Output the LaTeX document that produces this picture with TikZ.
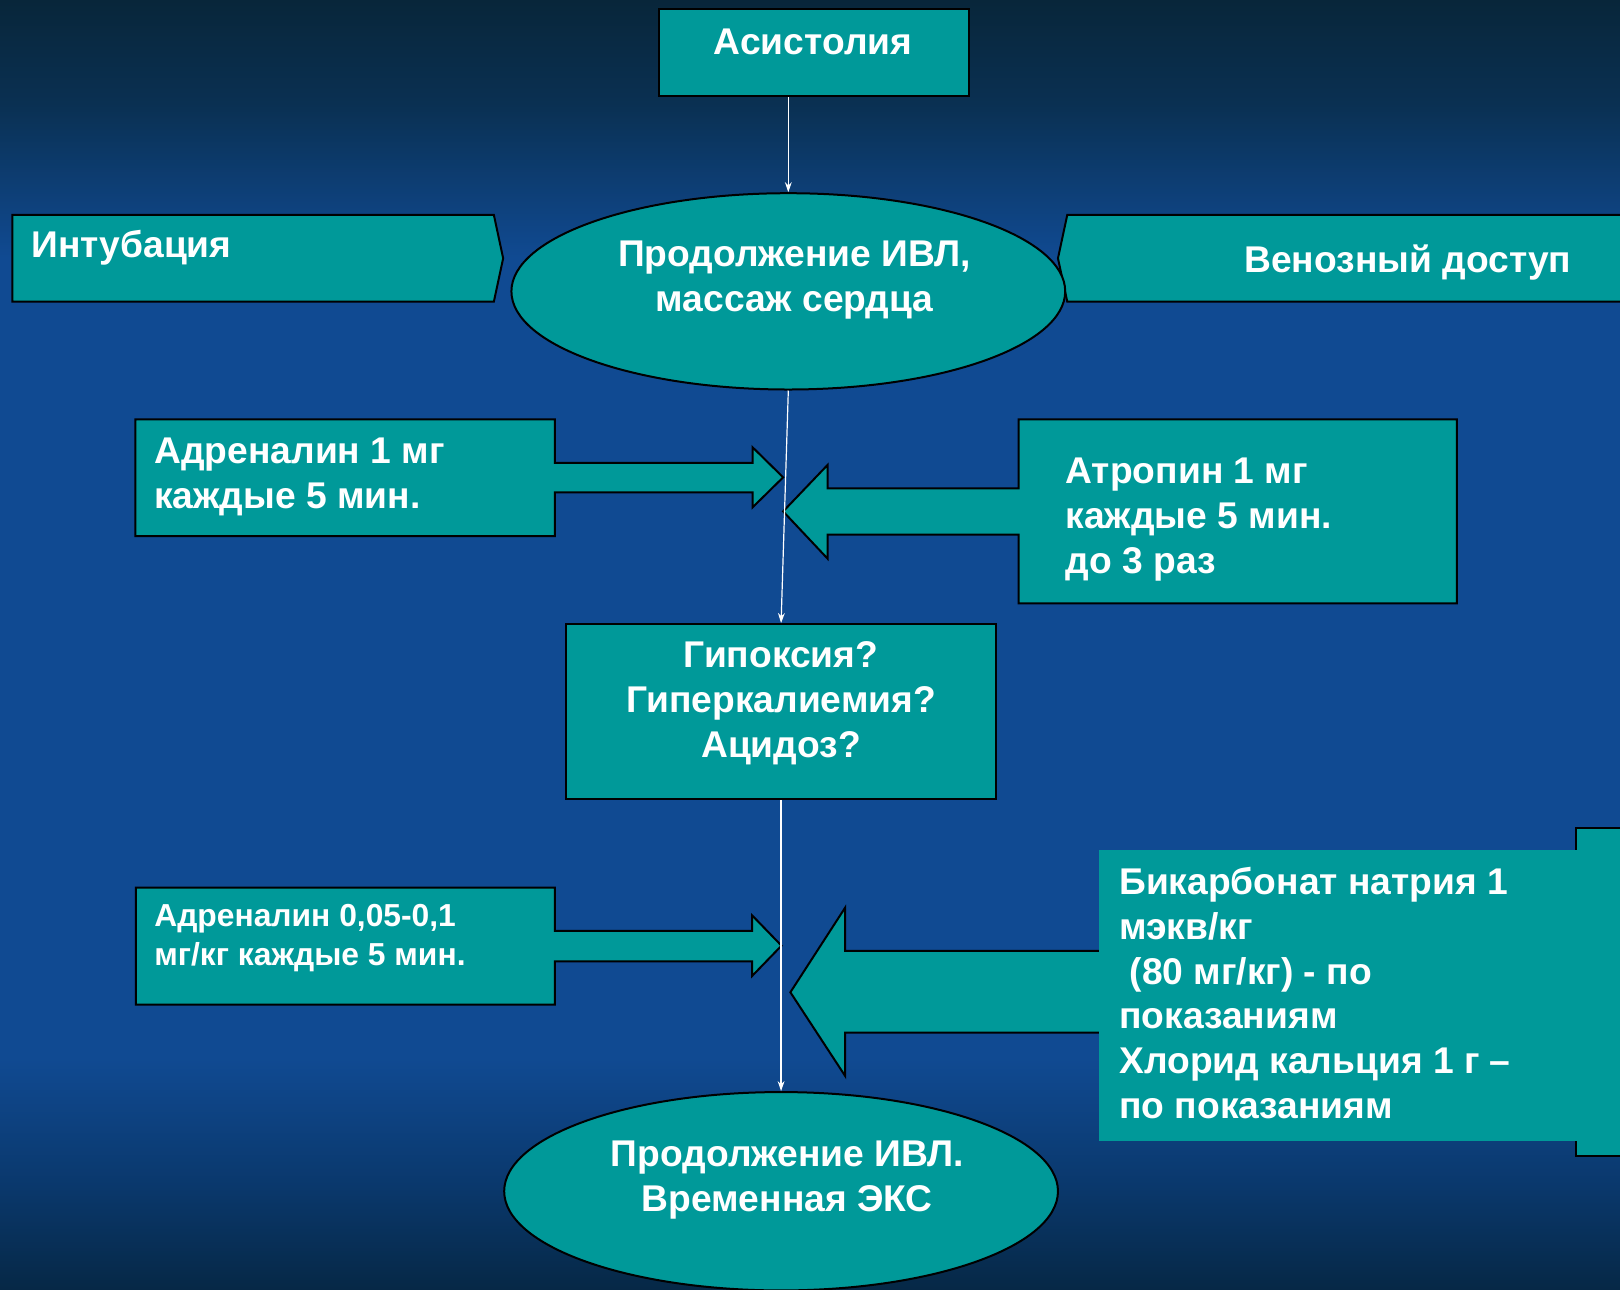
\documentclass[tikz,border=0pt]{standalone}
\usepackage{fontspec}
\setmainfont{Liberation Sans}
\usetikzlibrary{shapes.geometric,arrows.meta}
\definecolor{tealfill}{RGB}{0,153,153}
\definecolor{bgT}{RGB}{8,38,58}
\definecolor{bgT2}{RGB}{10,48,82}
\definecolor{bgM}{RGB}{16,74,146}
\definecolor{bgB2}{RGB}{10,56,108}
\definecolor{bgB}{RGB}{6,40,70}
\pgfdeclareverticalshading{bgshade}{100bp}{color(0bp)=(bgB); color(25bp)=(bgB); color(29bp)=(bgB2); color(34bp)=(bgM); color(65bp)=(bgM); color(71bp)=(bgT2); color(75bp)=(bgT); color(100bp)=(bgT)}
\tikzset{
  shapebox/.style={draw=black, line width=1pt, fill=tealfill},
  plainfill/.style={fill=tealfill},
  bigtxt/.style={text=white, font=\bfseries\fontsize{18.6}{22.7}\selectfont, inner sep=0pt},
  smalltxt/.style={text=white, font=\bfseries\fontsize{15.9}{19.6}\selectfont, inner sep=0pt},
  conn/.style={draw=white, line width=0.6pt, -{Stealth[length=5pt,width=3.4pt]}}
}
\begin{document}
\begin{tikzpicture}[x=0.5166pt,y=-0.5166pt]
\path[use as bounding box, shading=bgshade] (0,0) rectangle (1568,1248);
\clip (0,0) rectangle (1568,1248);

% side banners
\path[shapebox] (12,208) -- (478,208) -- (487,250) -- (478,292) -- (12,292) -- cycle;
\node[bigtxt, anchor=base west] (intub) at (30,249.5) {Интубация};
\path[shapebox] (1033,208) -- (1600,208) -- (1600,292) -- (1033,292) -- (1024,250) -- cycle;
\node[bigtxt, anchor=base west] (venous) at (1204,263.5) {Венозный доступ};

% main flow nodes
\node[shapebox, rectangle, minimum width={300*0.5166pt}, minimum height={84*0.5166pt}, inner sep=0pt] (asist) at (788,51) {};
\node[bigtxt, anchor=base] (asisttxt) at (787,52.5) {Асистолия};

\node[shapebox, ellipse, minimum width={536*0.5166pt}, minimum height={190*0.5166pt}, inner sep=0pt] (ell1) at (763,282) {};
\node[bigtxt, align=center, anchor=base] (ell1txt) at (769,301.5) {Продолжение ИВЛ,\\массаж сердца};

\node[shapebox, rectangle, minimum width={416*0.5166pt}, minimum height={169.5*0.5166pt}, inner sep=0pt] (hyp) at (756,688.75) {};
\node[bigtxt, align=center, anchor=base] (hyptxt) at (756,733.5) {Гипоксия?\\Гиперкалиемия?\\Ацидоз?};

\node[shapebox, ellipse, minimum width={536*0.5166pt}, minimum height={192*0.5166pt}, inner sep=0pt] (ell2) at (756,1153) {};
\node[bigtxt, align=center, anchor=base] (ell2txt) at (762,1172.5) {Продолжение ИВЛ.\\Временная ЭКС};

% callout: adrenaline 1 mg
\path[shapebox] (131,406) -- (537,406) -- (537,448) -- (728.5,448) -- (728.5,433) -- (758,462) -- (728.5,491) -- (728.5,476.5) -- (537,476.5) -- (537,519) -- (131,519) -- cycle;
\node[bigtxt, align=left, anchor=base west] (adr1) at (149,492.5) {Адреналин 1 мг\\каждые 5 мин.};

% callout: atropine
\path[shapebox] (1410,406) -- (986,406) -- (986,472.6) -- (801,472.6) -- (801,450) -- (758,495) -- (801,540.7) -- (801,517.5) -- (986,517.5) -- (986,584) -- (1410,584) -- cycle;
\node[bigtxt, align=left, anchor=base west] (atrop) at (1031,555.5) {Атропин 1 мг\\каждые 5 мин.\\до 3 раз};

% callout: adrenaline 0.05-0.1
\path[shapebox] (131.5,859) -- (537,859) -- (537,901) -- (728,901) -- (728,886) -- (756.4,915.3) -- (728,944.6) -- (728,930.4) -- (537,930.4) -- (537,972.4) -- (131.5,972.4) -- cycle;
\node[smalltxt, align=left, anchor=base west] (adr2) at (149,934.8) {Адреналин 0,05-0,1\\мг/кг каждые 5 мин.};

% callout: bicarbonate
\path[shapebox] (1525,801) rectangle (1600,1119);
\path[shapebox] (1070,920.4) -- (818,920.4) -- (818,878.5) -- (765,960.4) -- (818,1041.4) -- (818,999.5) -- (1070,999.5);
\path[plainfill] (1064,822.6) rectangle (1527,1104);
\node[bigtxt, align=left, anchor=base west, font=\bfseries\fontsize{18.6}{22.4}\selectfont] (bicarb) at (1083,1082.5) {Бикарбонат натрия 1\\мэкв/кг\\\ (80 мг/кг) - по\\показаниям\\Хлорид кальция 1 г –\\по показаниям};

% connectors
\draw[conn] (asist.south -| ell1.north) -- (ell1.north);
\draw[conn] (ell1.south) -- (hyp.north);
\draw[conn] (hyp.south) -- (ell2.north);
\end{tikzpicture}
\end{document}
